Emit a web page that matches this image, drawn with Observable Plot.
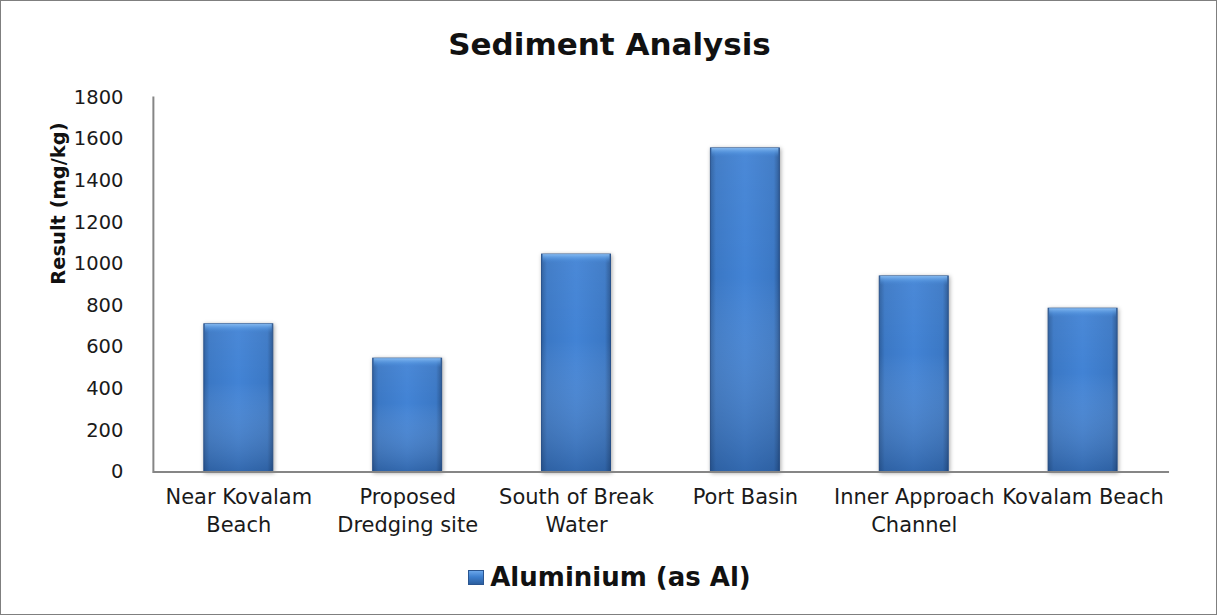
<!DOCTYPE html>
<html>
<head>
<meta charset="utf-8">
<script src="https://cdn.jsdelivr.net/npm/d3@7"></script>
<script src="https://cdn.jsdelivr.net/npm/@observablehq/plot@0.6"></script>
<style>
  html, body { margin: 0; padding: 0; background: #fff; }
  #wrap { position: relative; width: 1217px; height: 615px; box-sizing: border-box; border: 1px solid #7f7f7f; overflow: hidden; background:#fff; }
  #title { position: absolute; left: 0; width: 1217px; top: 25px; text-align: center; font-family: "DejaVu Sans", Verdana, sans-serif; font-weight: bold; font-size: 31px; line-height: 36px; color: #111; }
  #chart { position: absolute; left: -1px; top: -1px; }
  #legend { position: absolute; left: 0; width: 1217px; top: 560px; text-align: center; font-family: "DejaVu Sans", Verdana, sans-serif; font-weight: bold; font-size: 26px; line-height: 32px; color: #111; }
  #legend .sw { display: inline-block; width: 16px; height: 15px; margin-right: 6px; vertical-align: 1px;
    background: linear-gradient(#6aa6ea 0%, #3d7fcf 45%, #2c5f9f 100%); border: 1px solid #2a5590; box-sizing: border-box; }
</style>
</head>
<body>
<div id="wrap">
  <div id="title">Sediment Analysis</div>
  <div id="chart"></div>
  <div id="legend"><span class="sw"></span>Aluminium (as Al)</div>
</div>
<script>
const categories = ["Near Kovalam Beach", "Proposed Dredging site", "South of Break Water", "Port Basin", "Inner Approach Channel", "Kovalam Beach"];
const tickLabels = ["Near Kovalam\nBeach", "Proposed\nDredging site", "South of Break\nWater", "Port Basin", "Inner Approach\nChannel", "Kovalam Beach"];
const aluminium = [710, 545, 1045, 1555, 940, 785];
const yTicks = [0, 200, 400, 600, 800, 1000, 1200, 1400, 1600, 1800];
const yLabel = "Result (mg/kg)";
const seriesName = "Aluminium (as Al)";

const data = categories.map((c, i) => ({cat: c, value: aluminium[i]}));

const plot = Plot.plot({
  width: 1217,
  height: 545,
  marginLeft: 153,
  marginRight: 47,
  marginTop: 97,
  marginBottom: 73,
  style: {fontFamily: "'DejaVu Sans', Verdana, sans-serif", fontSize: "19.5px", color: "#222", background: "transparent"},
  x: {domain: categories, paddingInner: 0.59, paddingOuter: 0.295, label: null, axis: null},
  y: {domain: [0, 1800], label: null, axis: null},
  marks: [
    Plot.axisY({ticks: yTicks, tickSize: 0, tickPadding: 30, label: null, fontSize: 19.5, tickFormat: d => String(d)}),
    Plot.axisX({tickSize: 0, tickPadding: 12, label: null, fontSize: 21, lineHeight: 1.33, tickFormat: (d) => tickLabels[categories.indexOf(d)]}),
    Plot.barY(data, {x: "cat", y: "value", fill: "url(#gH)", stroke: "#244f8a", strokeWidth: 1, className: "bars"}),
    Plot.barY(data, {x: "cat", y: "value", fill: "url(#gV)"}),
    Plot.barY(data, {x: "cat", y1: d => d.value, y2: d => d.value - 45, fill: "url(#gTop)", insetLeft: 1, insetRight: 1}),
    Plot.ruleY([0], {stroke: "#868686", strokeWidth: 2}),
    Plot.frame({anchor: "left", stroke: "#868686", strokeWidth: 2}),
    Plot.text([yLabel], {frameAnchor: "left", rotate: -90, dx: -95, fontWeight: "bold", fontSize: 19.5, fill: "#111"})
  ]
});

const svg = d3.select(plot);
const defs = svg.insert("defs", ":first-child");
const gH = defs.append("linearGradient").attr("id", "gH").attr("x1", 0).attr("x2", 1).attr("y1", 0).attr("y2", 0);
[[0, "#2d5f9f"], [0.08, "#3b78c5"], [0.5, "#4283d5"], [0.92, "#3b78c5"], [1, "#2a5894"]].forEach(([o, c]) => gH.append("stop").attr("offset", o).attr("stop-color", c));
const gV = defs.append("linearGradient").attr("id", "gV").attr("x1", 0).attr("x2", 0).attr("y1", 0).attr("y2", 1);
[[0, "#ffffff", 0.05], [0.4, "#ffffff", 0], [1, "#0d2a55", 0.3]].forEach(([o, c, a]) => gV.append("stop").attr("offset", o).attr("stop-color", c).attr("stop-opacity", a));
const gT = defs.append("linearGradient").attr("id", "gTop").attr("x1", 0).attr("x2", 0).attr("y1", 0).attr("y2", 1);
[[0, "#8cc0f5", 0.9], [0.5, "#5e9fe6", 0.5], [1, "#3f81d2", 0]].forEach(([o, c, a]) => gT.append("stop").attr("offset", o).attr("stop-color", c).attr("stop-opacity", a));
svg.selectAll(".bars").style("filter", "drop-shadow(1px 1px 2px rgba(0,0,0,0.35))");
svg.selectAll("[aria-label='y-axis tick label'] text, [aria-label='x-axis tick label'] text").attr("fill", "#1a1a1a");

document.getElementById("chart").appendChild(plot);
</script>
</body>
</html>
